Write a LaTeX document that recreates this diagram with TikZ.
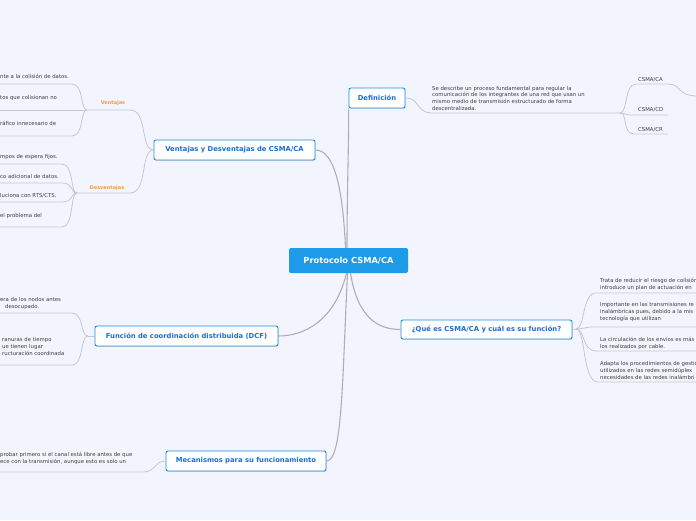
\documentclass[tikz,border=0pt]{standalone}
\usepackage{fontspec}
\setmainfont{DejaVu Sans}
\usetikzlibrary{shadows}

\definecolor{bgcol}{RGB}{243,245,254}
\definecolor{topicblue}{RGB}{30,140,226}
\definecolor{titleblue}{RGB}{28,110,212}
\definecolor{centralblue}{RGB}{30,155,232}
\definecolor{conngray}{RGB}{196,199,210}
\definecolor{leafgray}{RGB}{60,60,66}
\definecolor{orangelab}{RGB}{245,155,70}

\tikzset{
  topic/.style={draw=topicblue, line width=0.9pt, rounded corners=2pt, fill=white,
    text=titleblue, font=\bfseries\fontsize{6.8}{8}\selectfont, minimum height=20pt,
    inner xsep=0pt, drop shadow={shadow xshift=0.6pt, shadow yshift=-0.8pt, opacity=0.25}},
  central/.style={fill=centralblue, rounded corners=2pt, text=white,
    font=\bfseries\fontsize{8.3}{10}\selectfont, minimum height=25pt, minimum width=119pt},
  leaf/.style={font=\fontsize{5.35}{6.6}\selectfont, text=leafgray, inner sep=0pt,
    anchor=base west, align=left},
  sidelab/.style={font=\bfseries\fontsize{5}{6}\selectfont, text=orangelab, inner sep=0pt},
  conn/.style={draw=conngray, line width=0.8pt},
  mainconn/.style={draw=conngray!88!black, line width=1.1pt}
}

\begin{document}
\begin{tikzpicture}[x=1pt,y=-1pt]
  \useasboundingbox (0,0) rectangle (696,520);
  \clip (0,0) rectangle (696,520);
  \fill[bgcol] (0,0) rectangle (696,520);

  % main topics
  \node[central] (proto) at (348.5,260.5) {Protocolo CSMA/CA};
  \node[topic, minimum width=56pt] (defi) at (377,98) {Definición};
  \node[topic, minimum width=161pt] (ventajas) at (234.5,150) {Ventajas y Desventajas de CSMA/CA};
  \node[topic, minimum width=183pt] (dcf) at (186.5,336) {Función de coordinación distribuida (DCF)};
  \node[topic, minimum width=160pt] (mecan) at (246,461) {Mecanismos para su funcionamiento};
  \node[topic, minimum width=171pt, minimum height=19pt] (quees) at (486.5,329.5) {¿Qué es CSMA/CA y cuál es su función?};

  % junctions
  \coordinate (dj1) at (620,113);
  \coordinate (vj) at (87,110);
  \coordinate (dvj) at (77,193);
  \coordinate (fj) at (88,336);
  \coordinate (qj) at (576,329);

  % central connectors
  \draw[mainconn] ([xshift=-1.5pt]proto.north) .. controls (347,190) and (349,140) .. (defi.south west);
  \draw[mainconn] ([xshift=-3pt]proto.north) .. controls (343,195) and (336,150) .. (ventajas.east);
  \draw[mainconn] ([xshift=-2pt]proto.south) .. controls (335,320) and (305,336) .. (dcf.east);
  \draw[mainconn] ([xshift=-1pt]proto.south) .. controls (342,390) and (342,461) .. (mecan.east);
  \draw[mainconn] ([xshift=2pt]proto.south) .. controls (358,320) and (380,329.5) .. (quees.west);

  % Definicion
  \draw[conn] (defi.east) .. controls (420,98) and (416,113) .. (432,113) -- (dj1);
  \node[leaf] (defitext) at (432,110) {Se describe un proceso fundamental para regular la\\comunicación de los integrantes de una red que usan un\\mismo medio de transmisión estructurado de forma\\descentralizada.};
  \draw[conn] (dj1) .. controls (628,113) and (624,84) .. (636,84) -- (668,84) .. controls (682,84) and (676,96) .. (698,96);
  \draw[conn] (dj1) .. controls (626,113) and (624,115) .. (632,115) -- (668,115);
  \draw[conn] (dj1) .. controls (628,113) and (622,134) .. (634,134) -- (668,134);
  \node[leaf] (csmaca) at (638,81) {CSMA/CA};
  \node[leaf] (csmacd) at (638,111) {CSMA/CD};
  \node[leaf] (csmacr) at (638,131) {CSMA/CR};

  % Ventajas
  \draw[conn] (ventajas.west) .. controls (140,150) and (148,110) .. (130,110) -- (vj);
  \node[sidelab] (ventlab) at (113,103) {Ventajas};
  \draw[conn] (vj) .. controls (80,110) and (84,84) .. (72,84) -- (0,84);
  \draw[conn] (vj) -- (0,110);
  \draw[conn] (vj) .. controls (80,110) and (84,136) .. (72,136) -- (0,136);
  \node[leaf] (v1) at (0,78) {nte a la colisión de datos.};
  \node[leaf] (v2) at (0,99) {tos que colisionan no};
  \node[leaf] (v3) at (0,125) {ráfico innecesario de};

  % Desventajas
  \draw[conn] (ventajas.west) .. controls (140,150) and (148,193) .. (130,193) -- (dvj);
  \node[sidelab] (desvlab) at (107,188) {Desventajas};
  \draw[conn] (dvj) .. controls (70,193) and (74,164) .. (62,164) -- (0,164);
  \draw[conn] (dvj) .. controls (70,193) and (74,183) .. (62,183) -- (0,183);
  \draw[conn] (dvj) .. controls (70,193) and (74,202) .. (62,202) -- (0,202);
  \draw[conn] (dvj) .. controls (70,193) and (74,227) .. (62,227) -- (0,227);
  \node[leaf] (d1) at (0,158) {mpos de espera fijos.};
  \node[leaf] (d2) at (0,178) {co adicional de datos.};
  \node[leaf] (d3) at (0,197) {luciona con RTS/CTS.};
  \node[leaf] (d4) at (0,217) {el problema del};

  % DCF
  \draw[conn] (dcf.west) -- (fj);
  \draw[conn] (fj) .. controls (80,336) and (84,313) .. (72,313) -- (0,313);
  \draw[conn] (fj) .. controls (80,336) and (84,365) .. (72,365) -- (0,365);
  \node[leaf] (f1a) at (0,301) {era de los nodos antes};
  \node[leaf] (f1b) at (5,308.5) {desocupado.};
  \node[leaf] (f2) at (2,355) {ranuras de tiempo\\ue tienen lugar\\ructuración coordinada};

  % Mecanismos
  \draw[conn] (mecan.west) .. controls (154,461) and (156,472) .. (143,472) -- (0,472);
  \node[leaf] (m1) at (0,463.5) {probar primero si el canal está libre antes de que\\ece con la transmisión, aunque esto es solo un};

  % Que es
  \draw[conn] (quees.east) -- (qj);
  \draw[conn] (qj) .. controls (585,329) and (582,293) .. (596,293) -- (698,293);
  \draw[conn] (qj) .. controls (584,329) and (584,327) .. (594,327) -- (698,327);
  \draw[conn] (qj) .. controls (585,329) and (582,351) .. (596,351) -- (698,351);
  \draw[conn] (qj) .. controls (586,329) and (582,382) .. (598,382) -- (698,382);
  \node[leaf] (q1) at (600,289.5) {Trata de reducir el riesgo de colisión\\introduce un plan de actuación en};
  \node[leaf] (q2) at (600,320) {Importante en las transmisiones re\\inalámbricas pues, debido a la mis\\tecnología que utilizan};
  \node[leaf] (q3) at (600,348) {La circulación de los envíos es más\\los realizados por cable.};
  \node[leaf] (q4) at (600,379) {Adapta los procedimientos de gestió\\utilizados en las redes semidúplex\\necesidades de las redes inalámbri};
\end{tikzpicture}
\end{document}
